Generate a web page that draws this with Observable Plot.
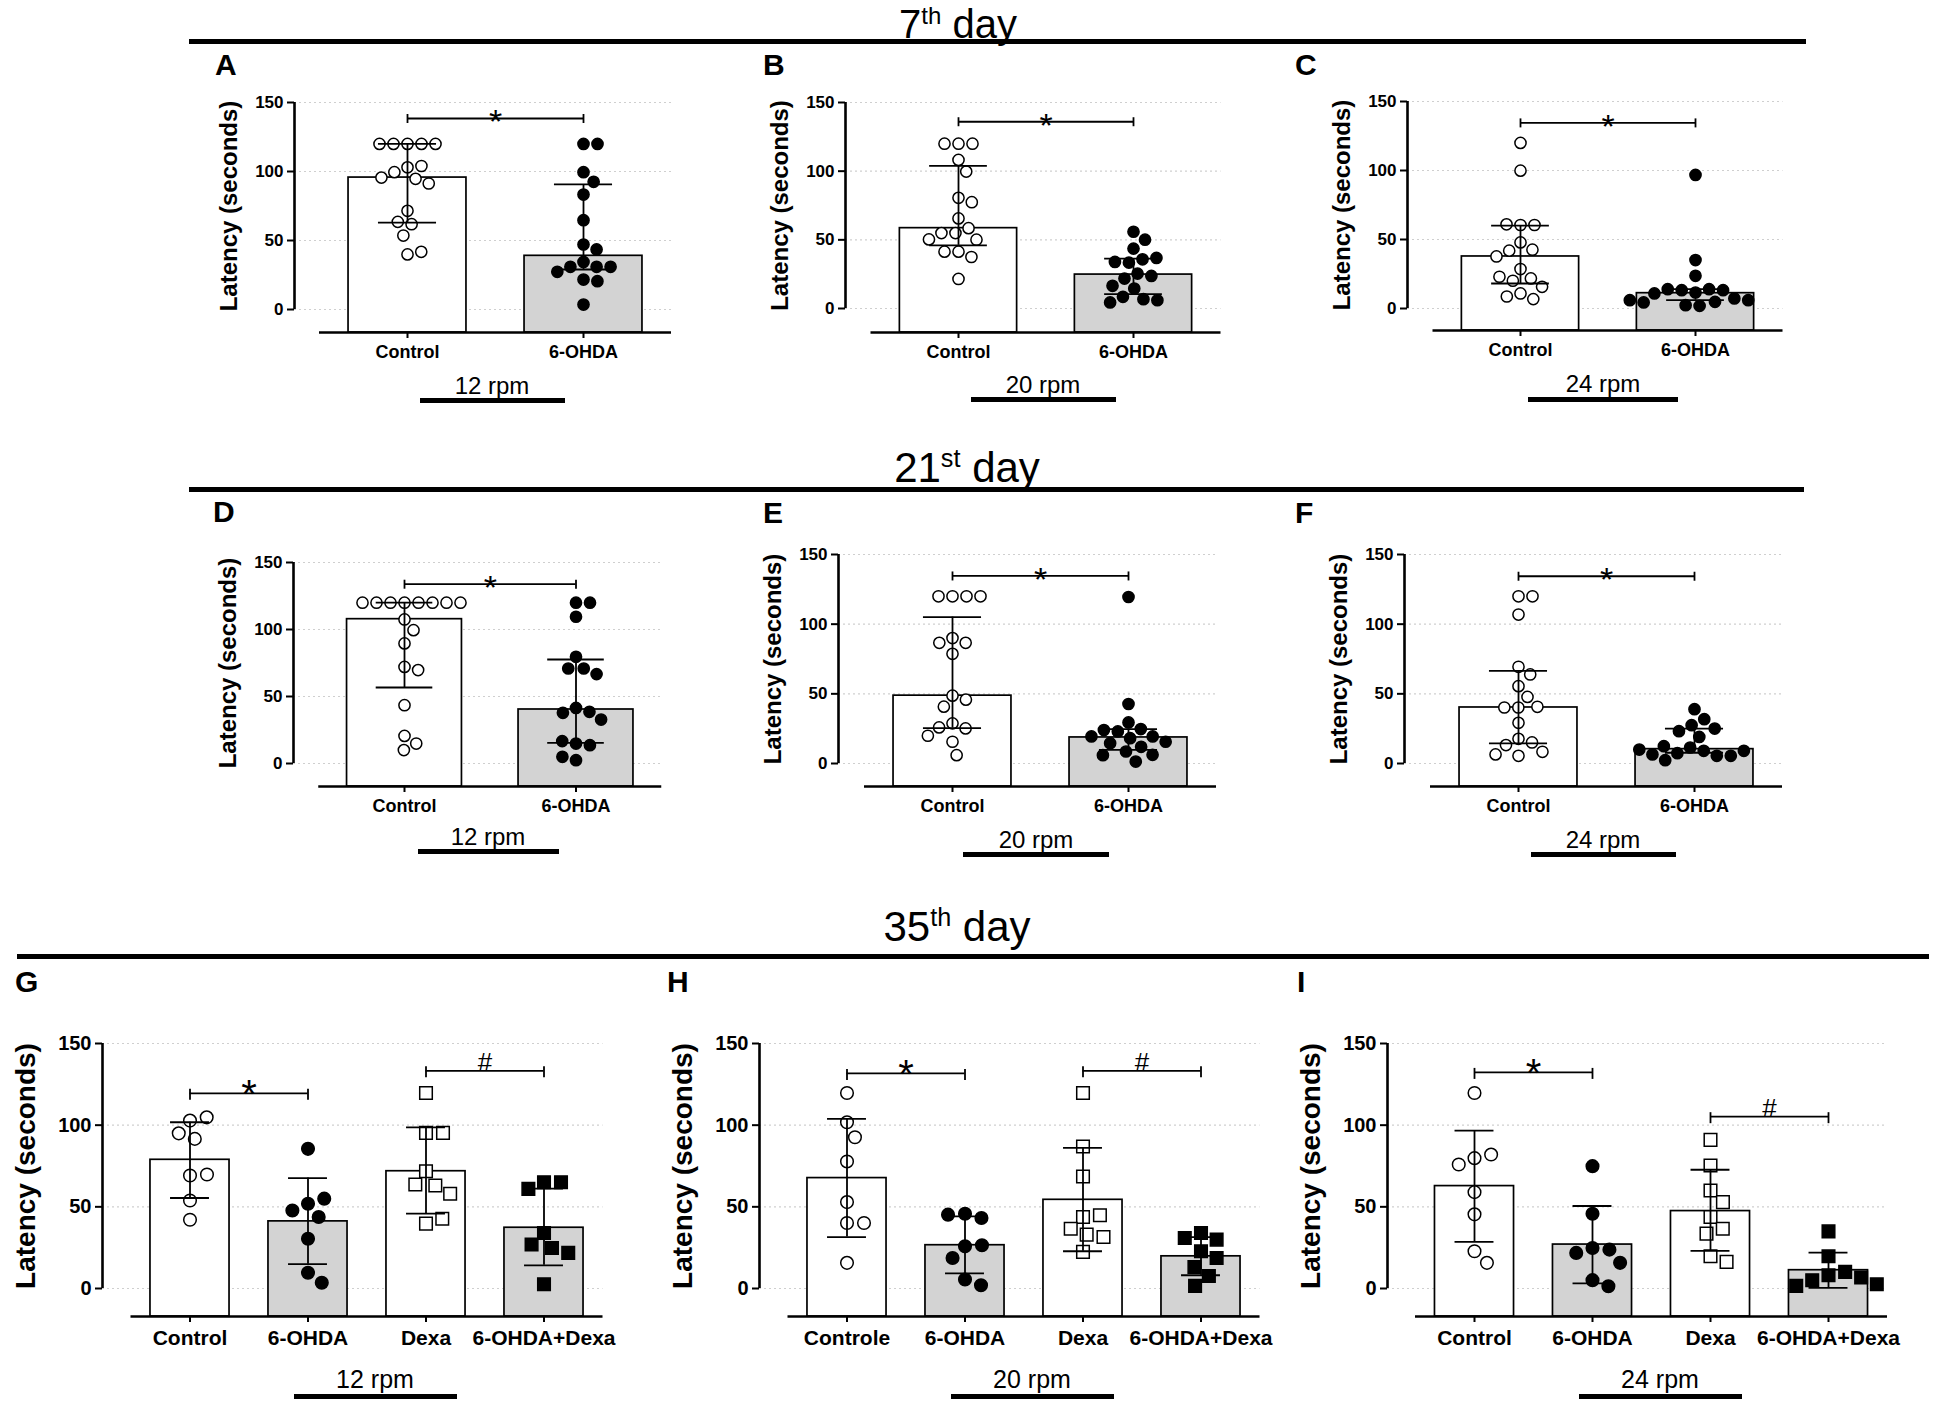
<!DOCTYPE html>
<html>
<head>
<meta charset="utf-8">
<script src="https://cdn.jsdelivr.net/npm/d3@7"></script>
<script src="https://cdn.jsdelivr.net/npm/@observablehq/plot@0.6"></script>
<style>
  body { margin: 0; background: #fff; }
  #fig { position: relative; width: 1950px; height: 1416px; overflow: hidden; background: #fff;
         font-family: "Liberation Sans", Arial, Helvetica, sans-serif; color: #000; }
  .abs { position: absolute; white-space: nowrap; line-height: 1; }
  .sup { font-size: 0.6em; vertical-align: 0.58em; line-height: 0; }
</style>
</head>
<body>
<div id="fig"></div>
<script>
// ---------------- DATA ----------------
const yTicks = [0, 50, 100, 150];
const yLabel = "Latency (seconds)";
const catsTwo = ["Control", "6-OHDA"];
const catsFour = ["Control", "6-OHDA", "Dexa", "6-OHDA+Dexa"];
const catsFourH = ["Controle", "6-OHDA", "Dexa", "6-OHDA+Dexa"];
const dayTitles = [["7", "th", " day"], ["21", "st", " day"], ["35", "th", " day"]];
const rpmLabels = ["12 rpm", "20 rpm", "24 rpm"];

// 7th day
const A_control = [120, 120, 120, 120, 120, 103, 104, 99.5, 94.7, 91.3, 95.6, 71.5, 61.8, 63.5, 53.6, 39.9, 41.8];
const A_ohda = [120, 120, 99.5, 92.5, 83.3, 64.7, 47.1, 43.5, 34.5, 30.9, 30.9, 30.9, 27.3, 21.7, 20.5, 3.6];
const A_median = [95.6, 38.9];
const A_q1 = [63, 29];
const A_q3 = [120, 90.6];
const A_brackets = [["*", 0, 1, 138.4]];

const B_control = [120, 120, 120, 108.2, 99.7, 80.6, 77.4, 65.6, 58.5, 54.9, 54.9, 50.1, 50.3, 41.4, 41.4, 37.5, 21.5];
const B_ohda = [55.9, 50.1, 43.6, 35.8, 33.4, 33.9, 36.8, 25.4, 21.8, 23.7, 16.5, 14.5, 8.5, 6.8, 4.4, 6.0];
const B_median = [58.5, 24.7];
const B_q1 = [46, 10.4];
const B_q3 = [103.8, 36.3];
const B_brackets = [["*", 0, 1, 136]];

const C_control = [120, 99.9, 60.5, 60.5, 61, 47.9, 42.6, 41.9, 37.7, 28.6, 21.8, 20.1, 23, 15.7, 10.9, 6.8, 8.7];
const C_ohda = [96.8, 35.1, 23.7, 11.6, 14, 13.3, 13.3, 14, 10.9, 7.3, 6, 4.8, 1.9, 2.4, 4.4, 6];
const C_median = [37.7, 11.1];
const C_q1 = [18.1, 6];
const C_q3 = [60, 14];
const C_brackets = [["*", 0, 1, 134.5]];

// 21st day
const D_control = [120, 120, 120, 120, 120, 120, 120, 120, 107.5, 99.5, 89.6, 72.1, 69.7, 43.5, 20.6, 14.9, 10];
const D_ohda = [120, 120, 109.5, 79.6, 70.9, 70.9, 66.7, 41.5, 38.6, 37.8, 32.8, 14.9, 13.7, 16.7, 2.5, 5];
const D_median = [107.7, 40.3];
const D_q1 = [56.7, 15.4];
const D_q3 = [120, 77.6];
const D_brackets = [["*", 0, 1, 133.8]];

const E_control = [120, 120, 120, 120, 90, 86.6, 86.6, 78.7, 48.7, 45.8, 40.8, 28.8, 25.2, 25.9, 19.9, 15.6, 6];
const E_ohda = [119.5, 42.7, 29.5, 24.7, 23, 24, 19.4, 18.2, 19.4, 15.6, 14.6, 12, 8.6, 6.2, 6, 1.4];
const E_median = [48.7, 18.7];
const E_q1 = [25.4, 9.8];
const E_q3 = [105.1, 24.7];
const E_brackets = [["*", 0, 1, 134.6]];

const F_control = [120, 120, 106.9, 69.4, 63.9, 55.5, 47.8, 40.2, 40.2, 40.7, 29.2, 17.7, 15.1, 13.2, 8.4, 5.5, 6.5];
const F_ohda = [39, 31.8, 27.5, 23.2, 25.1, 19.1, 11.5, 9.1, 7.4, 5.5, 2.4, 5.5, 6.5, 9.1, 10, 12.4];
const F_median = [40.2, 10.3];
const F_q1 = [14.4, 7.7];
const F_q3 = [66.5, 25.1];
const F_brackets = [["*", 0, 1, 134.4]];

// 35th day
const G_control = [102.8, 104.8, 95, 91.6, 69.2, 69.8, 53.9, 42.1];
const G_ohda = [85.5, 51.9, 55, 47.8, 43.8, 30.5, 9.6, 3.5];
const G_dexa = [119.7, 95.3, 95.3, 71.8, 63.1, 63.7, 58, 39.7, 42.7];
const G_ohdaDexa = [65.1, 65.1, 61, 34, 24.8, 26.9, 21.8, 2.6];
const G_median = [78.8, 41.1, 71.8, 37.2];
const G_q1 = [55.4, 14.9, 45.8, 14.2];
const G_q3 = [101.8, 67.6, 98.7, 61.1];
const G_brackets = [["*", 0, 1, 119.5], ["#", 2, 3, 133.3]];

const H_control = [119.7, 101.8, 92.6, 77.8, 52.9, 40.1, 40.1, 15.7];
const H_ohda = [45.8, 43.2, 45.2, 25.8, 26.5, 18.7, 5.5, 2];
const H_dexa = [119.7, 86.9, 68.6, 43.8, 44.8, 36.6, 33, 31.5, 22.4];
const H_ohdaDexa = [34, 29.9, 30.9, 22.8, 18.7, 13.2, 7.7, 1.6];
const H_median = [67.6, 26.5, 54.3, 19.7];
const H_q1 = [31.5, 9.2, 22.8, 8.1];
const H_q3 = [103.8, 44.2, 86.1, 31.5];
const H_brackets = [["*", 0, 1, 131.7], ["#", 2, 3, 133.3]];

const I_control = [119.7, 79.8, 82, 75.9, 59, 45.4, 22.8, 15.7];
const I_ohda = [74.9, 45.8, 24.8, 23.8, 21.8, 15.7, 5.1, 1.4];
const I_dexa = [91, 75.3, 60, 52.9, 43.8, 36.6, 33.6, 19.7, 16.3];
const I_ohdaDexa = [35, 19.7, 8.1, 10.2, 5.1, 6.7, 1.6, 2.6];
const I_median = [62.7, 26.9, 47.4, 11.2];
const I_q1 = [28.5, 3.1, 23, 0.4];
const I_q3 = [96.7, 50.5, 72.7, 22];
const I_brackets = [["*", 0, 1, 132.3], ["#", 2, 3, 105.2]];

// ---------------- ASSEMBLY ----------------
const panelData = {
  A: {cats: catsTwo, groups: [A_control, A_ohda], median: A_median, q1: A_q1, q3: A_q3, brackets: A_brackets, rpm: rpmLabels[0]},
  B: {cats: catsTwo, groups: [B_control, B_ohda], median: B_median, q1: B_q1, q3: B_q3, brackets: B_brackets, rpm: rpmLabels[1]},
  C: {cats: catsTwo, groups: [C_control, C_ohda], median: C_median, q1: C_q1, q3: C_q3, brackets: C_brackets, rpm: rpmLabels[2]},
  D: {cats: catsTwo, groups: [D_control, D_ohda], median: D_median, q1: D_q1, q3: D_q3, brackets: D_brackets, rpm: rpmLabels[0]},
  E: {cats: catsTwo, groups: [E_control, E_ohda], median: E_median, q1: E_q1, q3: E_q3, brackets: E_brackets, rpm: rpmLabels[1]},
  F: {cats: catsTwo, groups: [F_control, F_ohda], median: F_median, q1: F_q1, q3: F_q3, brackets: F_brackets, rpm: rpmLabels[2]},
  G: {cats: catsFour, groups: [G_control, G_ohda, G_dexa, G_ohdaDexa], median: G_median, q1: G_q1, q3: G_q3, brackets: G_brackets, rpm: rpmLabels[0]},
  H: {cats: catsFourH, groups: [H_control, H_ohda, H_dexa, H_ohdaDexa], median: H_median, q1: H_q1, q3: H_q3, brackets: H_brackets, rpm: rpmLabels[1]},
  I: {cats: catsFour, groups: [I_control, I_ohda, I_dexa, I_ohdaDexa], median: I_median, q1: I_q1, q3: I_q3, brackets: I_brackets, rpm: rpmLabels[2]}
};

// Layout (page pixel geometry of each panel)
const layout = {
  A: {row: 0, yaxisX: 294, c0: 407, step: 176, y150: 102, y0: 309, xaxisY: 332, letterX: 215, letterY: 75, rpmX: 492, rpmY: 394, barTop: 398, barW: 145},
  B: {row: 0, yaxisX: 845, c0: 958, step: 175, y150: 102, y0: 308, xaxisY: 332, letterX: 763, letterY: 75, rpmX: 1043, rpmY: 393, barTop: 397, barW: 145},
  C: {row: 0, yaxisX: 1407, c0: 1520, step: 175, y150: 101, y0: 308, xaxisY: 330, letterX: 1295, letterY: 75, rpmX: 1603, rpmY: 392, barTop: 397, barW: 150},
  D: {row: 1, yaxisX: 293, c0: 404, step: 171.5, y150: 562, y0: 763, xaxisY: 786, letterX: 213, letterY: 522, rpmX: 488, rpmY: 845, barTop: 849, barW: 141},
  E: {row: 1, yaxisX: 838, c0: 952, step: 176, y150: 554, y0: 763, xaxisY: 786, letterX: 763, letterY: 523, rpmX: 1036, rpmY: 848, barTop: 852, barW: 146},
  F: {row: 1, yaxisX: 1404, c0: 1518, step: 176, y150: 554, y0: 763, xaxisY: 786, letterX: 1295, letterY: 523, rpmX: 1603, rpmY: 848, barTop: 852, barW: 145},
  G: {row: 2, yaxisX: 102, c0: 189.5, step: 118, y150: 1043, y0: 1288, xaxisY: 1316, letterX: 15, letterY: 992, rpmX: 375, rpmY: 1388, barTop: 1394, barW: 163},
  H: {row: 2, yaxisX: 759, c0: 846.5, step: 118, y150: 1043, y0: 1288, xaxisY: 1316, letterX: 667, letterY: 992, rpmX: 1032, rpmY: 1388, barTop: 1394, barW: 163},
  I: {row: 2, yaxisX: 1387, c0: 1474, step: 118, y150: 1043, y0: 1288, xaxisY: 1316, letterX: 1297, letterY: 992, rpmX: 1660, rpmY: 1388, barTop: 1394, barW: 163}
};
const rowRules = [
  {x: 189, y: 39, w: 1617, h: 5, tx: 958, ty: 38, fs: 40},
  {x: 189, y: 487, w: 1615, h: 5, tx: 967, ty: 483, fs: 42},
  {x: 17, y: 954, w: 1912, h: 5, tx: 957, ty: 942, fs: 42}
];
const style12 = {mL: 86, mT: 24, mB: 40, tick: 17, cat: 18, catPad: 7, ylab: 24, ylabDx: -65, r: 5.6, sq: 6.6, D: 14,
                 star: 34, starDy: 4, hash: 26, hashDy: -8.3, capUp: 4, capDown: 5, rpm: 24};
const style3 = {mL: 100, mT: 24, mB: 46, tick: 20, cat: 21, catPad: 8, ylab: 28, ylabDx: -76, r: 6.3, sq: 7.1, D: 17,
                star: 40, starDy: 1.6, hash: 26, hashDy: -8.3, capUp: 4, capDown: 7, rpm: 25};
const BAR_HALF = 0.335, CAP_HALF = 0.165;
const FONT = '"Liberation Sans", Arial, Helvetica, sans-serif';
const fig = document.getElementById("fig");

function addText(html, x, baseline, size, weight, anchor) {
  const el = document.createElement("div");
  el.className = "abs";
  el.innerHTML = html;
  el.style.fontSize = size + "px";
  el.style.fontWeight = weight;
  el.style.top = (baseline - 0.8465 * size) + "px";
  el.style.left = x + "px";
  if (anchor === "middle") el.style.transform = "translateX(-50%)";
  fig.appendChild(el);
}
function addBox(x, y, w, h) {
  const el = document.createElement("div");
  el.className = "abs";
  Object.assign(el.style, {left: x + "px", top: y + "px", width: w + "px", height: h + "px", background: "#000"});
  fig.appendChild(el);
}

// beeswarm-style horizontal dodge (pixel offsets), computed from the values
function dodge(values, ppu, D) {
  const placed = [];
  return values.map(v => {
    const y = v * ppu;
    const iv = [];
    for (const p of placed) {
      const dy = Math.abs(p.y - y);
      if (dy < D) { const w = Math.sqrt(D * D - dy * dy); iv.push([p.x - w, p.x + w]); }
    }
    const cands = [0];
    for (const [a, b] of iv) cands.push(a, b);
    cands.sort((a, b) => Math.abs(a) - Math.abs(b) || b - a);
    let x = 0;
    for (const c of cands) {
      if (iv.every(([a, b]) => c <= a + 1e-6 || c >= b - 1e-6)) { x = c; break; }
    }
    placed.push({x, y});
    return x;
  });
}

function makePanel(key) {
  const L = layout[key], P = panelData[key];
  const S = L.row === 2 ? style3 : style12;
  const N = P.cats.length;
  const yBottom = yTicks[0], yTop = yTicks[yTicks.length - 1];
  const ppu = (L.y0 - L.y150) / (yTop - yBottom);
  const yMin = yBottom - (L.xaxisY - L.y0) / ppu;
  const xLeft = (L.yaxisX - L.c0) / L.step;
  const xRight = N - 0.5;
  const innerW = (xRight - xLeft) * L.step;
  const width = Math.ceil(S.mL + innerW + 12);
  const mR = width - S.mL - innerW;
  const height = S.mT + (L.xaxisY - L.y150) + S.mB;

  const summary = P.cats.map((c, i) => ({i, cat: c, median: P.median[i], q1: P.q1[i], q3: P.q3[i], lesion: c.includes("6-OHDA")}));
  const dotMarks = P.groups.map((vals, gi) => {
    const cat = P.cats[gi];
    const lesion = cat.includes("6-OHDA"), dexa = cat.includes("Dexa");
    const offs = dodge(vals, ppu, S.D);
    const pts = vals.map((v, k) => ({x: gi + offs[k] / L.step, v}));
    return Plot.dot(pts, {x: "x", y: "v", r: dexa ? S.sq : S.r, symbol: dexa ? "square" : "circle",
      fill: lesion ? "#000" : "#fff", stroke: "#000", strokeWidth: 1.5});
  });
  const br = P.brackets.map(([label, a, b, y]) => ({label, a, b, y}));
  const caps = br.flatMap(d => [{x: d.a, y: d.y}, {x: d.b, y: d.y}]);

  const svg = Plot.plot({
    width, height,
    marginLeft: S.mL, marginRight: mR, marginTop: S.mT, marginBottom: S.mB,
    x: {domain: [xLeft, xRight]},
    y: {domain: [yMin, yTop]},
    style: {fontFamily: FONT, fontSize: "17px", fontWeight: "bold", color: "#000", background: "transparent", overflow: "visible", maxWidth: "none"},
    marks: [
      Plot.ruleY(yTicks, {stroke: "#cfcfcf", strokeWidth: 1.2, strokeDasharray: "2,3"}),
      Plot.rect(summary, {x1: d => d.i - BAR_HALF, x2: d => d.i + BAR_HALF, y1: () => yMin, y2: "median",
        fill: d => d.lesion ? "#d3d3d3" : "#fff", stroke: "#000", strokeWidth: 1.7}),
      ...dotMarks,
      Plot.ruleX(summary, {x: "i", y1: "q1", y2: "q3", stroke: "#000", strokeWidth: 1.8}),
      Plot.ruleY(summary, {y: "q1", x1: d => d.i - CAP_HALF, x2: d => d.i + CAP_HALF, stroke: "#000", strokeWidth: 1.8}),
      Plot.ruleY(summary, {y: "q3", x1: d => d.i - CAP_HALF, x2: d => d.i + CAP_HALF, stroke: "#000", strokeWidth: 1.8}),
      Plot.ruleY(br, {y: "y", x1: "a", x2: "b", stroke: "#000", strokeWidth: 1.8}),
      Plot.ruleX(caps, {x: "x", y1: d => d.y - S.capDown / ppu, y2: d => d.y + S.capUp / ppu, stroke: "#000", strokeWidth: 1.8}),
      Plot.text(br.filter(d => d.label === "*"), {x: d => (d.a + d.b) / 2, y: "y", text: "label", fontSize: S.star, dy: S.starDy, fontWeight: "normal"}),
      Plot.text(br.filter(d => d.label === "#"), {x: d => (d.a + d.b) / 2, y: "y", text: "label", fontSize: S.hash, dy: S.hashDy, fontWeight: "normal"}),
      Plot.ruleX([xLeft], {y1: () => yBottom, y2: () => yTop, stroke: "#000", strokeWidth: 2.6}),
      Plot.ruleY([yMin], {x1: () => -0.5, x2: () => xRight, stroke: "#000", strokeWidth: 2.6}),
      Plot.axisY({ticks: yTicks, tickSize: 7, tickPadding: 4, fontSize: S.tick, strokeWidth: 2, label: null}),
      Plot.axisX({ticks: d3.range(N), tickFormat: i => P.cats[i], tickSize: 6, tickPadding: S.catPad, fontSize: S.cat, strokeWidth: 2, label: null}),
      Plot.text([yLabel], {frameAnchor: "left", textAnchor: "middle", y: () => (yBottom + yTop) / 2, rotate: -90, dx: S.ylabDx, fontSize: S.ylab})
    ]
  });
  svg.style.position = "absolute";
  svg.style.left = (L.yaxisX - S.mL) + "px";
  svg.style.top = (L.y150 - S.mT) + "px";
  fig.appendChild(svg);

  addText(key, L.letterX, L.letterY, 30, "bold", "start");
  addText(P.rpm, L.rpmX, L.rpmY, S.rpm, "normal", "middle");
  addBox(L.rpmX - L.barW / 2, L.barTop, L.barW, 5);
}

rowRules.forEach((r, k) => {
  addBox(r.x, r.y, r.w, r.h);
  const [n, s, rest] = dayTitles[k];
  addText(`${n}<span class="sup">${s}</span>${rest}`, r.tx, r.ty, r.fs, "normal", "middle");
});
Object.keys(panelData).forEach(makePanel);
</script>
</body>
</html>
